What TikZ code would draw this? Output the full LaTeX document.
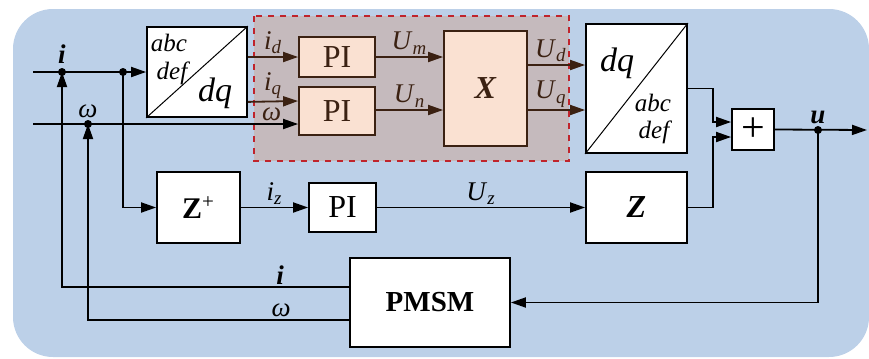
\documentclass[tikz,border=0pt]{standalone}
\usepackage{fontspec}
\setmainfont{Liberation Serif}
\usetikzlibrary{arrows.meta,positioning}

\definecolor{fundo}{RGB}{188,208,232}
\definecolor{regiao}{RGB}{197,186,189}
\definecolor{tracejado}{RGB}{192,36,44}
\definecolor{pessego}{RGB}{250,225,210}
\definecolor{marrom}{RGB}{59,33,18}

\newcommand{\sinal}[2]{\textit{#1}\textsubscript{\textit{#2}}}

\begin{document}
\begin{tikzpicture}[x=0.5pt, y=-0.5pt]

  % ── Estilos ────────────────────────────────────────────────
  \tikzset{
    bloco/.style   = {draw, line width=0.9pt, fill=white, inner sep=0pt},
    blocoPI/.style = {bloco, draw=marrom, fill=pessego, text=marrom},
    fio/.style     = {line width=0.9pt, -{Triangle[length=7.5pt, width=5pt]}},
    fioint/.style  = {fio, draw=marrom, text=marrom},
    rotulo/.style  = {font=\fontsize{13.5}{15}\selectfont, inner sep=1pt},
    grande/.style  = {font=\fontsize{16}{18}\selectfont},
    interno/.style = {font=\fontsize{12.5}{14}\selectfont\itshape, inner sep=0pt},
    ponto/.style   = {circle, fill, inner sep=0pt, minimum size=4pt}
  }

  \useasboundingbox (0,0) rectangle (869,359);

  % =========================================================
  % 1. FUNDO E REGIAO TRACEJADA
  % =========================================================
  \fill[fundo, rounded corners=20pt] (13,9) rectangle (869,357);
  \filldraw[fill=regiao, draw=tracejado, dashed, line width=0.8pt]
    (254,16) rectangle (569,161);

  % =========================================================
  % 2. BLOCOS
  % =========================================================
  \node[bloco, minimum width=50pt, minimum height=45pt] (abc) at (197,72) {};
  \node[blocoPI, grande, minimum width=38pt, minimum height=20pt] (pi1) at (337,57) {PI};
  \node[blocoPI, grande, minimum width=38pt, minimum height=24pt] (pi2) at (337,111) {PI};
  \node[blocoPI, grande, minimum width=41.5pt, minimum height=57.5pt] (xbl) at (485.5,88.5)
    {\textbf{\textit{X}}};
  \node[bloco, minimum width=50.5pt, minimum height=64.5pt] (dqi) at (636.5,88.5) {};
  \node[bloco, font=\fontsize{21}{22}\selectfont, minimum width=21pt, minimum height=20.5pt]
    (soma) at (753,129.5) {+};
  \node[bloco, grande, minimum width=50.5pt, minimum height=35.5pt] (zbl) at (636.5,207.5)
    {\textbf{\textit{Z}}};
  \node[bloco, font=\fontsize{15}{17}\selectfont, minimum width=41.5pt, minimum height=35.5pt]
    (zmais) at (198.5,207.5) {\textbf{Z}\textsuperscript{+}};
  \node[bloco, grande, minimum width=33.5pt, minimum height=24.5pt] (pi3) at (342.5,207.5) {PI};
  \node[bloco, font=\fontsize{14.5}{16}\selectfont\bfseries, minimum width=80pt,
    minimum height=44.5pt] (pmsm) at (430,302.5) {PMSM};

  % Diagonais e textos das transformadas
  \draw[line width=0.5pt] (abc.south west) -- (abc.north east);
  \node[interno] at ([shift={(-28,-29)}]abc.center) {abc};
  \node[interno] at ([shift={(-25,1)}]abc.center) {def};
  \node[interno, font=\fontsize{17}{18}\selectfont\itshape] at ([shift={(18,21)}]abc.center) {dq};

  \draw[line width=0.5pt] (dqi.south west) -- (dqi.north east);
  \node[interno, font=\fontsize{17}{18}\selectfont\itshape] at ([shift={(-19.5,-25.5)}]dqi.center) {dq};
  \node[interno] at ([shift={(16.5,14.5)}]dqi.center) {abc};
  \node[interno] at ([shift={(17.5,43.5)}]dqi.center) {def};

  % =========================================================
  % 3. ENTRADAS E NOS DE DERIVACAO
  % =========================================================
  \coordinate (ein) at (33,72);
  \coordinate (ew)  at (33,124);
  \coordinate (ni)  at (62,72);
  \coordinate (nw)  at (88,124);
  \coordinate (nz)  at (123,72);
  \coordinate (nu)  at (818,130);
  \coordinate (saida) at (867,130);

  \draw[fio] (ein) -- (abc.west);
  \draw[fio] (ew) -- (ew -| pi2.west)
    node[rotulo, pos=0.9, above, text=marrom] {\textit{ω}};
  \draw[fio] (nz) |- (zmais.west);

  \node[rotulo, above=3pt of ni] {\textbf{\textit{i}}};
  \node[rotulo, above=2pt of nw] {\textit{ω}};

  % =========================================================
  % 4. MALHA INTERNA (PI + X)
  % =========================================================
  \draw[fioint] (abc.east |- pi1.west) -- (pi1.west)
    node[rotulo, midway, above] {\sinal{i}{d}};
  \draw[fioint] ([yshift=8pt]abc.south east) -- ([yshift=5pt]pi2.west)
    node[rotulo, midway, above] {\sinal{i}{q}};
  \draw[fioint] (pi1.east) -- (pi1.east -| xbl.west)
    node[rotulo, midway, above] {\sinal{U}{m}};
  \draw[fioint] ([yshift=0.5pt]pi2.east) -- ([yshift=0.5pt]pi2.east -| xbl.west)
    node[rotulo, midway, above] {\sinal{U}{n}};
  \draw[fioint] ([yshift=11.75pt]xbl.east) coordinate (ud) -- (ud -| dqi.west)
    node[rotulo, pos=0.4, above] {\sinal{U}{d}};
  \draw[fioint] ([yshift=-10.75pt]xbl.east) coordinate (uq) -- (uq -| dqi.west)
    node[rotulo, pos=0.4, above] {\sinal{U}{q}};

  % =========================================================
  % 5. MALHA DE SEQUENCIA ZERO
  % =========================================================
  \draw[fio] (zmais.east) -- (pi3.west)
    node[rotulo, midway, above] {\sinal{i}{z}};
  \draw[fio] (pi3.east) -- (zbl.west)
    node[rotulo, midway, above] {\sinal{U}{z}};

  % Somador e saida
  \draw[fio] (dqi.east) -- ++(25,0) |- ([yshift=3.75pt]soma.west);
  \draw[fio] (zbl.east) -- ++(25,0) |- ([yshift=-3.75pt]soma.west);
  \draw[fio] (soma.east) -- (saida);
  \node[rotulo, above=2pt of nu] {\textbf{\textit{u}}};

  % =========================================================
  % 6. REALIMENTACAO DO MOTOR
  % =========================================================
  \draw[fio] (nu) |- (pmsm.east);
  \draw[fio] ([yshift=7.75pt]pmsm.west) -| (ni)
    node[rotulo, pos=0.12, above] {\textbf{\textit{i}}};
  \draw[fio] ([yshift=-8.75pt]pmsm.west) -| (nw)
    node[rotulo, pos=0.13, above] {\textit{ω}};

  % Pontos de derivacao
  \foreach \p in {ni, nw, nz, nu}
    \node[ponto] at (\p) {};

\end{tikzpicture}
\end{document}
